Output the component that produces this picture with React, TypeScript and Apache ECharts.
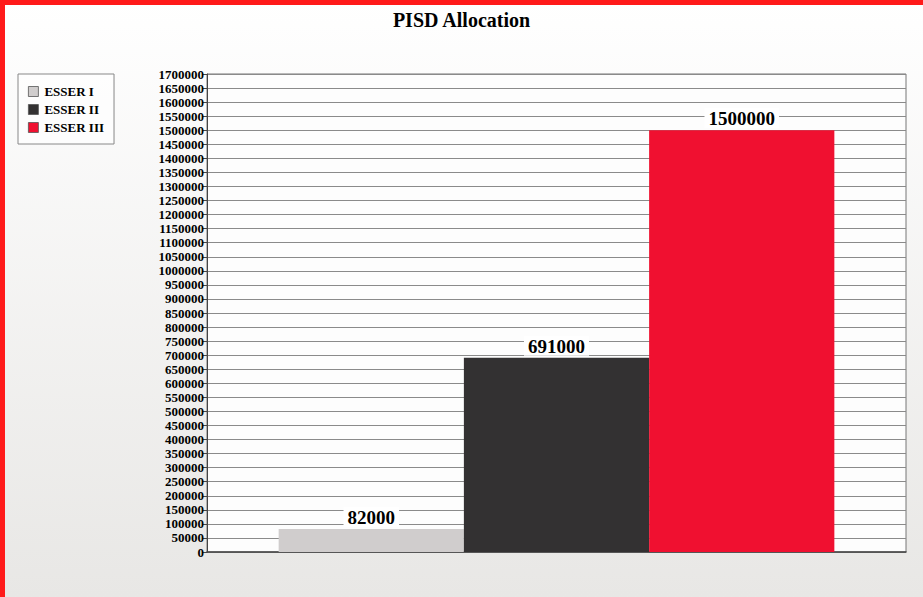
import React, { useEffect, useRef } from "react";
import * as echarts from "echarts";

const categories = ["PISD"];
const seriesNames = ["ESSER I", "ESSER II", "ESSER III"];
const seriesValues = [82000, 691000, 1500000];
const seriesColors = ["#d0cdcd", "#333132", "#f01030"];

export default function App() {
  const ref = useRef<HTMLDivElement>(null);
  useEffect(() => {
    document.body.style.margin = "0";
    const chart = echarts.init(ref.current!, null, { renderer: "svg" });
    const font = "'Liberation Serif', 'Times New Roman', serif";
    chart.setOption({
      animation: false,
      backgroundColor: {
        type: "linear", x: 0, y: 0, x2: 0, y2: 1,
        colorStops: [
          { offset: 0, color: "#ffffff" },
          { offset: 1, color: "#e8e7e5" },
        ],
      },
      title: {
        text: "PISD Allocation",
        left: "center",
        top: 5,
        textStyle: { fontFamily: font, fontWeight: "bold", fontSize: 20, color: "#000" },
      },
      legend: {
        orient: "vertical",
        left: 18,
        top: 74,
        padding: [11, 10, 10, 10],
        itemGap: 5,
        itemWidth: 10,
        itemHeight: 10,
        borderColor: "#888",
        borderWidth: 1,
        backgroundColor: "rgba(255,255,255,0.6)",
        icon: "rect",
        data: seriesNames.map((n, i) => ({
          name: n,
          itemStyle: { color: seriesColors[i], borderColor: "#555", borderWidth: 0.8 },
        })),
        textStyle: { fontFamily: font, fontWeight: "bold", fontSize: 13, color: "#000", padding: [0, 8, 0, 1] },
      },
      grid: {
        left: 207,
        right: 17,
        top: 74,
        bottom: 45,
        show: true,
        backgroundColor: "#fdfdfd",
        borderColor: "#777",
        borderWidth: 1,
      },
      xAxis: {
        type: "category",
        data: categories,
        axisLabel: { show: false },
        axisTick: { show: false },
        axisLine: { lineStyle: { color: "#444", width: 1.5 } },
      },
      yAxis: {
        type: "value",
        min: 0,
        max: 1700000,
        interval: 50000,
        axisLine: { show: true, lineStyle: { color: "#444", width: 1 } },
        axisTick: { show: true, length: 5, lineStyle: { color: "#444" } },
        axisLabel: {
          fontFamily: font, fontWeight: "bold", fontSize: 13, color: "#000", margin: 3,
          formatter: (v: number) => String(v),
        },
        splitLine: { lineStyle: { color: "#8a8a8a", width: 1 } },
      },
      graphic: [
        { type: "rect", shape: { x: 0, y: 0, width: 923, height: 5 }, style: { fill: "#ff1a1a" }, z: 100 },
        { type: "rect", shape: { x: 0, y: 0, width: 5, height: 597 }, style: { fill: "#ff1a1a" }, z: 100 },
      ],
      series: seriesNames.map((n, i) => ({
        name: n,
        type: "bar",
        data: [seriesValues[i]],
        barGap: "0%",
        barCategoryGap: "20.5%",
        itemStyle: { color: seriesColors[i] },
        label: {
          show: true,
          position: "top",
          distance: 2,
          fontFamily: font,
          fontWeight: "bold",
          fontSize: 19,
          color: "#000",
          backgroundColor: "#ffffff",
          padding: [1, 4, 0, 4],
        },
      })),
    });
    return () => chart.dispose();
  }, []);
  return <div ref={ref} style={{ width: 923, height: 597, position: "absolute", left: 0, top: 0 }} />;
}
